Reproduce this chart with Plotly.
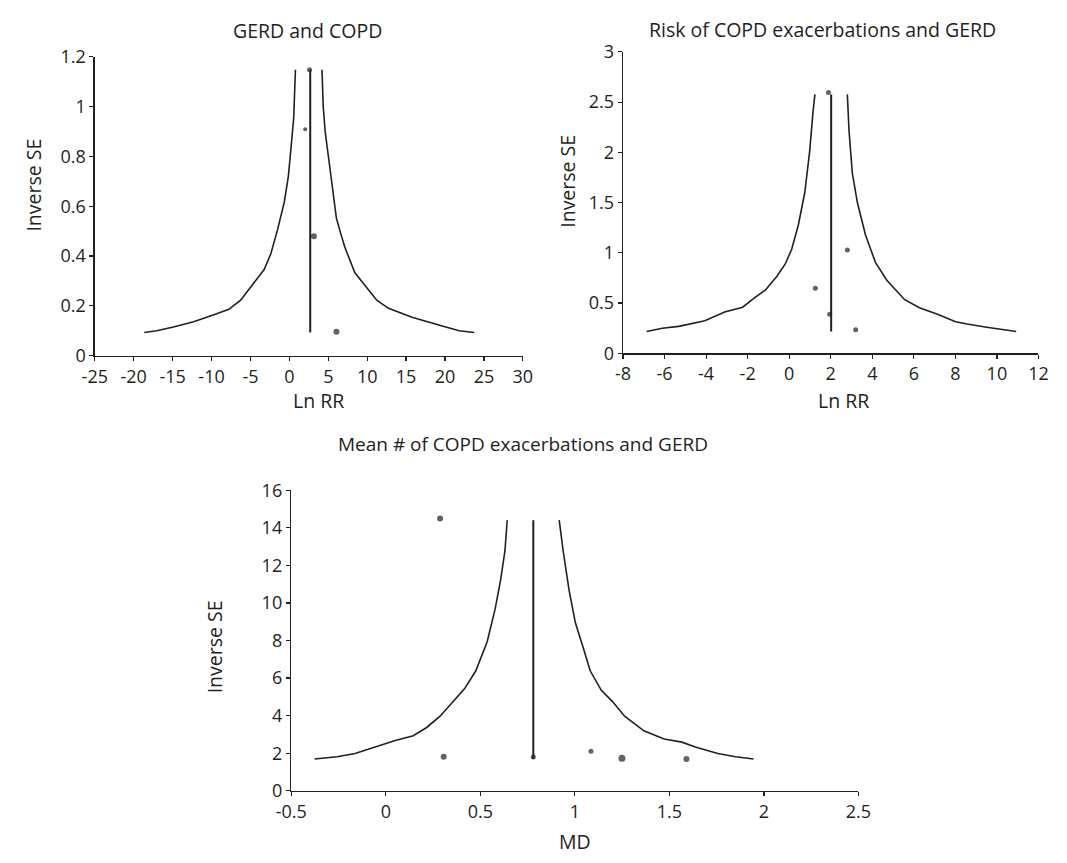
import plotly.graph_objects as go

# ---------------- data ----------------
# Panel 1: GERD and COPD
tl_left_x = [-18.65, -17.05, -14.9, -12.3, -9.7, -7.77, -6.26, -4.97, -3.24, -2.37, -1.51, -0.65, -0.13, 0.22, 0.56, 0.78]
tl_left_y = [0.093, 0.10, 0.115, 0.136, 0.164, 0.186, 0.223, 0.274, 0.346, 0.41, 0.507, 0.617, 0.72, 0.837, 0.954, 1.148]
tl_right_x = [4.19, 4.35, 4.6, 5.0, 5.3, 5.7, 6.04, 6.6, 7.12, 8.42, 9.71, 11.23, 12.74, 15.76, 19.2, 21.8, 23.75]
tl_right_y = [1.148, 1.0, 0.90, 0.80, 0.72, 0.63, 0.553, 0.49, 0.436, 0.333, 0.281, 0.223, 0.19, 0.154, 0.123, 0.10, 0.093]
tl_center_x = [2.68, 2.68]
tl_center_y = [0.093, 1.148]
tl_pts_x = [2.59, 2.03, 3.15, 6.05]
tl_pts_y = [1.148, 0.909, 0.479, 0.096]
tl_pts_size = [5, 4, 6, 6]
tl_xticks = [-25, -20, -15, -10, -5, 0, 5, 10, 15, 20, 25, 30]
tl_xticktext = ["-25", "-20", "-15", "-10", "-5", "0", "5", "10", "15", "20", "25", "30"]
tl_yticks = [0, 0.2, 0.4, 0.6, 0.8, 1, 1.2]
tl_yticktext = ["0", "0.2", "0.4", "0.6", "0.8", "1", "1.2"]

# Panel 2: Risk of COPD exacerbations and GERD
tr_left_x = [-6.86, -6.11, -5.32, -4.53, -4.06, -3.11, -2.24, -1.69, -1.14, -0.59, -0.19, 0.12, 0.44, 0.75, 0.99, 1.15, 1.24]
tr_left_y = [0.217, 0.249, 0.268, 0.30, 0.323, 0.41, 0.459, 0.55, 0.63, 0.766, 0.889, 1.035, 1.277, 1.60, 2.02, 2.41, 2.577]
tr_right_x = [2.80, 2.88, 3.04, 3.28, 3.67, 4.15, 4.70, 5.56, 6.27, 7.14, 8.01, 8.56, 9.51, 10.14, 10.93]
tr_right_y = [2.577, 2.215, 1.794, 1.503, 1.18, 0.905, 0.727, 0.533, 0.453, 0.388, 0.314, 0.291, 0.259, 0.242, 0.217]
tr_center_x = [2.02, 2.02]
tr_center_y = [0.217, 2.577]
tr_pts_x = [1.89, 2.80, 1.26, 1.95, 3.20]
tr_pts_y = [2.596, 1.028, 0.647, 0.388, 0.233]
tr_pts_size = [5, 5, 5, 5, 5]
tr_xticks = [-8, -6, -4, -2, 0, 2, 4, 6, 8, 10, 12]
tr_xticktext = ["-8", "-6", "-4", "-2", "0", "2", "4", "6", "8", "10", "12"]
tr_yticks = [0, 0.5, 1, 1.5, 2, 2.5, 3]
tr_yticktext = ["0", "0.5", "1", "1.5", "2", "2.5", "3"]

# Panel 3: Mean # of COPD exacerbations and GERD
b_left_x = [-0.377, -0.258, -0.163, -0.069, 0.05, 0.145, 0.216, 0.287, 0.346, 0.417, 0.476, 0.536, 0.578, 0.607, 0.630, 0.642]
b_left_y = [1.69, 1.81, 1.985, 2.28, 2.675, 2.93, 3.37, 3.97, 4.66, 5.44, 6.39, 7.94, 9.67, 11.22, 12.77, 14.41]
b_right_x = [0.917, 0.938, 0.969, 1.002, 1.045, 1.081, 1.14, 1.199, 1.263, 1.365, 1.472, 1.566, 1.637, 1.756, 1.85, 1.945]
b_right_y = [14.41, 12.77, 10.70, 8.97, 7.59, 6.39, 5.35, 4.75, 3.97, 3.19, 2.76, 2.59, 2.33, 1.985, 1.81, 1.69]
b_center_x = [0.78, 0.78]
b_center_y = [1.69, 14.41]
b_pts_x = [0.287, 0.306, 0.78, 1.085, 1.249, 1.59]
b_pts_y = [14.50, 1.81, 1.8, 2.1, 1.73, 1.69]
b_pts_size = [6, 6, 5, 5, 7, 6]
b_xticks = [-0.5, 0, 0.5, 1, 1.5, 2, 2.5]
b_xticktext = ["-0.5", "0", "0.5", "1", "1.5", "2", "2.5"]
b_yticks = [0, 2, 4, 6, 8, 10, 12, 14, 16]
b_yticktext = ["0", "2", "4", "6", "8", "10", "12", "14", "16"]

titles = ["GERD and COPD", "Risk of COPD exacerbations and GERD", "Mean # of COPD exacerbations and GERD"]
x_titles = ["Ln RR", "Ln RR", "MD"]
y_title = "Inverse SE"

# ---------------- figure ----------------
W, H = 1067, 863
FONT = "Open Sans, Lato, DejaVu Sans, sans-serif"
INK = "#231f20"
fig = go.Figure()


def px(x):
    return x / W


def py(y):
    return 1 - y / H


panels = [
    dict(xa="x", ya="y", lx=tl_left_x, ly=tl_left_y, rx=tl_right_x, ry=tl_right_y,
         cx=tl_center_x, cy=tl_center_y, ptx=tl_pts_x, pty=tl_pts_y, pts=tl_pts_size),
    dict(xa="x2", ya="y2", lx=tr_left_x, ly=tr_left_y, rx=tr_right_x, ry=tr_right_y,
         cx=tr_center_x, cy=tr_center_y, ptx=tr_pts_x, pty=tr_pts_y, pts=tr_pts_size),
    dict(xa="x3", ya="y3", lx=b_left_x, ly=b_left_y, rx=b_right_x, ry=b_right_y,
         cx=b_center_x, cy=b_center_y, ptx=b_pts_x, pty=b_pts_y, pts=b_pts_size),
]

for p in panels:
    line = dict(color=INK, width=1.6)
    fig.add_trace(go.Scatter(x=p["lx"], y=p["ly"], mode="lines", line=line,
                             xaxis=p["xa"], yaxis=p["ya"], showlegend=False, hoverinfo="skip"))
    fig.add_trace(go.Scatter(x=p["rx"], y=p["ry"], mode="lines", line=line,
                             xaxis=p["xa"], yaxis=p["ya"], showlegend=False, hoverinfo="skip"))
    fig.add_trace(go.Scatter(x=p["cx"], y=p["cy"], mode="lines", line=dict(color=INK, width=2),
                             xaxis=p["xa"], yaxis=p["ya"], showlegend=False, hoverinfo="skip"))
    fig.add_trace(go.Scatter(x=p["ptx"], y=p["pty"], mode="markers",
                             marker=dict(color=INK, size=p["pts"], line=dict(width=0)),
                             xaxis=p["xa"], yaxis=p["ya"], showlegend=False, hoverinfo="skip"))

axis_common = dict(showline=True, linecolor=INK, linewidth=1.5, ticks="outside",
                   ticklen=4, tickwidth=1.2, tickcolor=INK, showgrid=False,
                   zeroline=False, tickfont=dict(family=FONT, size=18, color=INK),
                   fixedrange=True)

fig.update_layout(
    width=W, height=H, margin=dict(l=0, r=0, t=0, b=0),
    paper_bgcolor="white", plot_bgcolor="white",
    font=dict(family=FONT, size=18, color=INK),
    hovermode=False,
    xaxis=dict(domain=[px(81), px(521)], range=[-25, 30], anchor="y",
               tickmode="array", tickvals=tl_xticks, ticktext=tl_xticktext, **axis_common),
    yaxis=dict(domain=[py(352.5), py(45)], range=[0, 1.2], anchor="x",
               tickmode="array", tickvals=tl_yticks, ticktext=tl_yticktext, **axis_common),
    xaxis2=dict(domain=[px(624), px(1051)], range=[-8, 12], anchor="y2",
                tickmode="array", tickvals=tr_xticks, ticktext=tr_xticktext, **axis_common),
    yaxis2=dict(domain=[py(350), py(40)], range=[0, 3], anchor="x2",
                tickmode="array", tickvals=tr_yticks, ticktext=tr_yticktext, **axis_common),
    xaxis3=dict(domain=[px(283), px(866)], range=[-0.5, 2.5], anchor="y3",
                tickmode="array", tickvals=b_xticks, ticktext=b_xticktext, **axis_common),
    yaxis3=dict(domain=[py(800), py(491)], range=[0, 16], anchor="x3",
                tickmode="array", tickvals=b_yticks, ticktext=b_yticktext, **axis_common),
)


def note(text, x, y, angle=0, size=19.5):
    fig.add_annotation(text=text, x=px(x), y=py(y), xref="paper", yref="paper",
                       showarrow=False, xanchor="center", yanchor="middle", textangle=angle,
                       font=dict(family=FONT, size=size, color=INK))


note(titles[0], 300, 18)
note(titles[1], 829, 17)
note(titles[2], 521, 443, size=19)
note(x_titles[0], 311, 399)
note(x_titles[1], 851, 399)
note(x_titles[2], 575, 852)
note(y_title, 18, 177, -90)
note(y_title, 567, 173, -90)
note(y_title, 204, 652, -90)

fig.write_html("out.html", config={"displayModeBar": False, "staticPlot": True},
               post_script="document.body.style.margin='0px';")
